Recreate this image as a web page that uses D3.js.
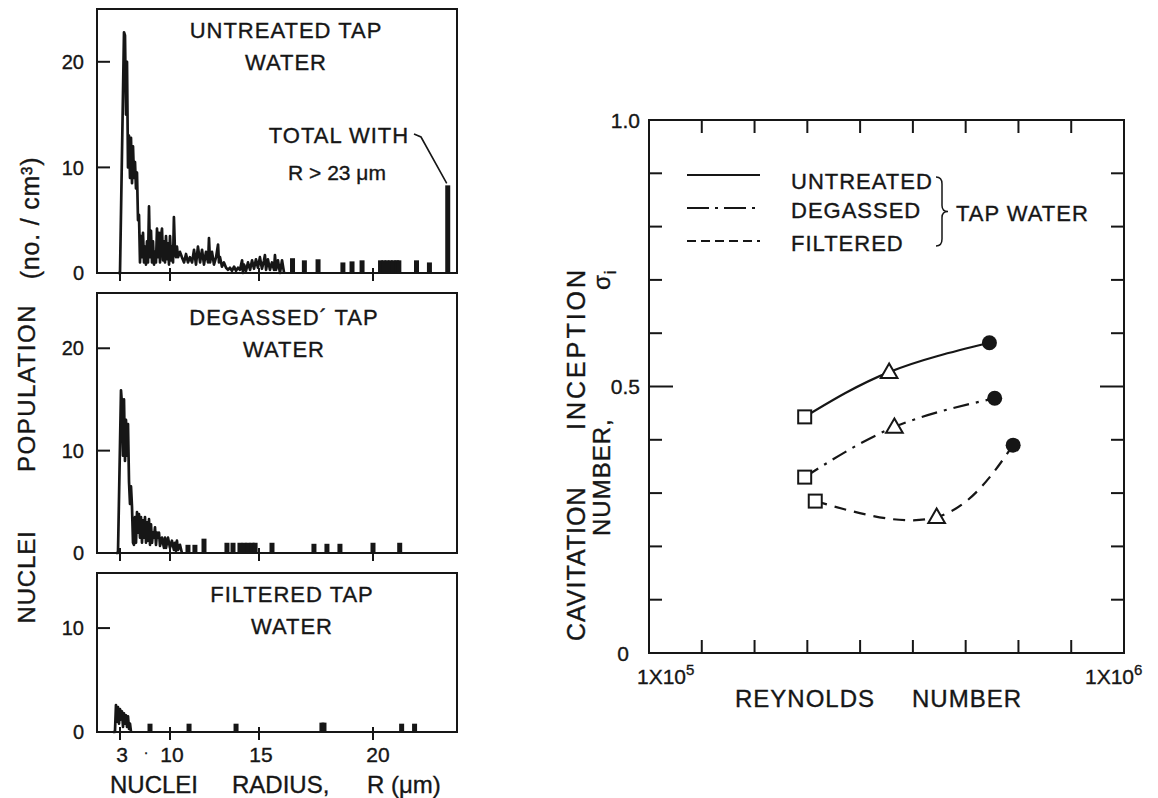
<!DOCTYPE html>
<html>
<head>
<meta charset="utf-8">
<script src="https://cdn.jsdelivr.net/npm/d3@7"></script>
<style>
  body { margin: 0; background: #fff; }
  text { font-family: "Liberation Sans", Arial, sans-serif; fill: #161616; stroke: #161616; stroke-width: 0.35; }
</style>
</head>
<body>
<script>
// ---- left: nuclei histograms, [radius (um), count per cm3] ----
const untreated = [[2.72,0],[3.00,0],[3.56,22.8],[3.70,22.5],[3.84,15],[3.98,20],[4.12,10],[4.26,13],[4.40,9],[4.54,12.8],
  [4.68,8.5],[4.82,12],[4.96,9],[5.10,10.5],[5.24,8],[5.38,9.5],[5.52,5],[5.66,5.5],[5.80,1],[5.94,3.5],
  [6.08,1.5],[6.22,3.8],[6.36,1],[6.50,2.5],[6.64,0.8],[6.78,3],[6.92,1],[7.06,6.3],[7.20,1.5],[7.34,4],
  [7.48,1],[7.62,3],[7.76,0.8],[7.90,2],[8.04,1],[8.18,4.2],[8.32,1.5],[8.46,3.8],[8.60,1],[8.74,3.5],
  [8.88,4.2],[9.02,1.2],[9.16,3],[9.30,1],[9.44,3.5],[9.58,1.3],[9.72,2.8],[9.86,0.8],[10.00,3.5],[10.06,1.2],
  [10.11,2.5],[10.17,1],[10.22,5.3],[10.28,2],[10.34,1.5],[10.39,2.5],[10.45,1.5],[10.56,2],[10.67,1.5],[10.79,1],
  [10.90,1.8],[11.01,1],[11.12,1.5],[11.24,1],[11.35,2.2],[11.46,0.8],[11.57,2.5],[11.69,1],[11.80,2.2],[11.91,0.8],
  [12.02,2],[12.14,1],[12.19,3.3],[12.25,1],[12.36,2],[12.47,0.8],[12.59,1.5],[12.70,2.7],[12.75,1],[12.81,1.5],
  [12.92,0.6],[13.03,1],[13.15,0.5],[13.26,0.3],[13.37,0.5],[13.48,0.2],[13.60,0.6],[13.71,0.2],[13.82,0.5],[13.93,0.3],
  [14.05,1.2],[14.10,0],[14.16,0.8],[14.27,0.2],[14.38,1],[14.50,0.3],[14.61,1.2],[14.72,0.4],[14.83,1.3],[14.94,0.5],
  [15.04,1.5],[15.13,0.4],[15.22,1.2],[15.26,1.7],[15.31,0.3],[15.39,1.3],[15.48,0.3],[15.57,1],[15.66,0.3],[15.70,1.7],
  [15.75,0.3],[15.83,1.2],[15.92,0],[16.01,1.2],[16.10,0]];
const untreatedBars = [[16.47,1.4],[16.99,1.2],[17.59,1.3],[18.68,1.0],[19.08,1.1],[19.52,1.2],[20.35,1.2],[20.5,1.2],
  [20.65,1.2],[20.8,1.2],[20.95,1.2],[21.1,1.2],[21.2,1.2],[22.02,1.2],[22.62,1.0],[23.47,8.3]];

const degassed = [[2.44,0],[2.72,0],[3.14,15.9],[3.28,14.5],[3.42,9.5],[3.56,15],[3.70,9],[3.84,13],[3.98,9.5],[4.12,12.6],
  [4.26,7],[4.40,4.8],[4.54,6.5],[4.68,4.5],[4.82,1],[4.96,0.8],[5.10,3.5],[5.24,1],[5.38,4],[5.52,2],
  [5.66,3.8],[5.80,1.5],[5.94,3.5],[6.08,1],[6.22,3.2],[6.36,1.5],[6.50,3.5],[6.64,1],[6.78,3],[6.92,1.2],
  [7.06,3.3],[7.20,0.8],[7.34,2.8],[7.48,1],[7.62,2],[7.76,1.5],[7.90,2.5],[8.04,0.8],[8.18,2],[8.32,1.5],
  [8.46,2],[8.60,0.7],[8.88,1.5],[9.16,0.5],[9.30,1.5],[9.44,0.5],[9.72,1.5],[10.00,0.5],[10.11,1.2],[10.22,0.3],
  [10.28,1],[10.34,0.2],[10.39,1.2],[10.45,0.3],[10.56,0.8],[10.67,0]];
const degassedBars = [[11.01,0.8],[11.40,0.8],[11.91,1.4],[13.20,1.0],[13.54,1.0],[13.93,1.0],[14.16,1.0],[14.38,1.0],
  [14.61,1.0],[14.78,1.0],[15.57,1.0],[17.41,0.9],[17.98,0.9],[18.55,0.9],[20.0,1.0],[21.24,1.0]];

const filtered = [[2.02,0],[2.30,0],[2.44,2.6],[2.58,1.0],[2.72,2.4],[2.86,0.8],[3.00,2.2],[3.14,1.2],[3.28,2.0],[3.42,0.5],
  [3.56,1.8],[3.70,0.8],[3.84,1.6],[3.98,0.5],[4.12,1.5],[4.26,0.3],[4.40,0.8],[4.54,0]];
const filteredBars = [[7.20,0.8],[11.07,0.8],[13.71,0.8],[17.76,0.9],[17.85,0.9],[21.33,0.8],[21.93,0.8]];

const radiusTicks = [3, 10, 15, 20];

// ---- right: inception number vs Reynolds number ----
const seriesNames = ["UNTREATED", "DEGASSED", "FILTERED"];
const untreatedRe = [3.95e5, 5.55e5, 7.45e5];
const untreatedSigma = [0.443, 0.527, 0.582];
const degassedRe = [3.95e5, 5.65e5, 7.55e5];
const degassedSigma = [0.330, 0.424, 0.478];
const filteredRe = [4.15e5, 6.45e5, 7.90e5];
const filteredSigma = [0.285, 0.255, 0.390];
const markerKinds = ["square", "triangle", "circle"];

const W = 1158, H = 798;
const svg = d3.select('body').append('svg')
  .attr('width', W).attr('height', H);
svg.append('rect').attr('width', W).attr('height', H).attr('fill', '#fff');

const ink = '#161616';

// ================= left panels =================
const left = 97, right = 457;
// hand-drawn radius axis is not uniform, so piecewise linear
const xR = d3.scaleLinear()
  .domain([-0.2, 3, 10, 15, 20, 23.9])
  .range([left, 120, 170, 259, 373, right]);

const panels = [
  {title: ["UNTREATED TAP", "WATER"], cx: 286, ty: 38, top: 9, bottom: 273, max: 25, yTicks: [0, 10, 20], line: untreated, bars: untreatedBars},
  {title: ["DEGASSED\u00B4 TAP", "WATER"], cx: 284, ty: 325, top: 293, bottom: 553, max: 25.4, yTicks: [0, 10, 20], line: degassed, bars: degassedBars},
  {title: ["FILTERED TAP", "WATER"], cx: 292, ty: 602, top: 573, bottom: 732, max: 15.3, yTicks: [0, 10], line: filtered, bars: filteredBars}
];

panels.forEach(p => {
  const y = d3.scaleLinear().domain([0, p.max]).range([p.bottom, p.top]);
  const g = svg.append('g');

  g.append('rect')
    .attr('x', left).attr('y', p.top)
    .attr('width', right - left).attr('height', p.bottom - p.top)
    .attr('fill', 'none').attr('stroke', ink).attr('stroke-width', 2);

  g.selectAll('line.yt').data(p.yTicks).join('line')
    .attr('x1', left).attr('x2', left + 13)
    .attr('y1', d => y(d)).attr('y2', d => y(d))
    .attr('stroke', ink).attr('stroke-width', 2);
  g.selectAll('text.yl').data(p.yTicks).join('text')
    .attr('x', 84).attr('y', d => y(d)).attr('dy', '0.36em')
    .attr('text-anchor', 'end').attr('font-size', 20)
    .text(d => d);

  g.selectAll('line.xt').data(radiusTicks).join('line')
    .attr('x1', d => xR(d)).attr('x2', d => xR(d))
    .attr('y1', y(0) - 5).attr('y2', y(0) + 8)
    .attr('stroke', ink).attr('stroke-width', 2);

  g.append('path')
    .datum(p.line)
    .attr('d', d3.line().x(d => xR(d[0])).y(d => y(d[1])))
    .attr('fill', 'none').attr('stroke', ink)
    .attr('stroke-width', 2.7).attr('stroke-linejoin', 'round');

  g.selectAll('rect.bar').data(p.bars).join('rect')
    .attr('x', d => xR(d[0]) - 2.5).attr('width', 5)
    .attr('y', d => y(d[1])).attr('height', d => y(0) - y(d[1]))
    .attr('fill', ink);

  g.selectAll('text.title').data(p.title).join('text')
    .attr('x', p.cx).attr('y', (d, i) => p.ty + i * 32)
    .attr('text-anchor', 'middle').attr('font-size', 22)
    .attr('letter-spacing', 1)
    .text(d => d);

  if (p.line === untreated) {
    const last = p.bars[p.bars.length - 1];
    g.append('text').attr('x', 339).attr('y', 143)
      .attr('text-anchor', 'middle').attr('font-size', 22).attr('letter-spacing', 1)
      .text('TOTAL WITH');
    g.append('text').attr('x', 337).attr('y', 180)
      .attr('text-anchor', 'middle').attr('font-size', 21)
      .text('R > 23 \u03BCm');
    g.append('path')
      .attr('d', d3.line()([[414, 134], [421, 137], [xR(last[0]) - 1, y(last[1]) - 2]]))
      .attr('fill', 'none').attr('stroke', ink).attr('stroke-width', 1.6);
  }
});

// radius tick labels and axis title
svg.selectAll('text.rl').data(radiusTicks).join('text')
  .attr('x', d => xR(d) + (d === 20 ? 5 : 2)).attr('y', 762)
  .attr('text-anchor', 'middle').attr('font-size', 21)
  .text(d => d);
svg.append('text').attr('x', 146).attr('y', 757).attr('font-size', 14)
  .attr('text-anchor', 'middle').text('\u00B7');
const xTitle = svg.append('text').attr('y', 793).attr('font-size', 24);
xTitle.append('tspan').attr('x', 110).text('NUCLEI');
xTitle.append('tspan').attr('x', 232).text('RADIUS,');
xTitle.append('tspan').attr('x', 367).text('R (\u03BCm)');

[["NUCLEI", 577, 35, 24], ["POPULATION", 388, 35, 24], ["(no. / cm\u00B3)", 218, 39, 25]].forEach(([t, cy, bx, fs]) => {
  svg.append('text')
    .attr('transform', `translate(${bx},${cy}) rotate(-90)`)
    .attr('text-anchor', 'middle').attr('font-size', fs)
    .attr('letter-spacing', t === 'POPULATION' ? 1.5 : 0.8)
    .text(t);
});

// ================= right chart =================
const x = d3.scaleLinear().domain([1e5, 1e6]).range([649, 1124]);
const y = d3.scaleLinear().domain([0, 1]).range([653, 120]);
const rg = svg.append('g');

rg.append('rect')
  .attr('x', x(1e5)).attr('y', y(1))
  .attr('width', x(1e6) - x(1e5)).attr('height', y(0) - y(1))
  .attr('fill', 'none').attr('stroke', ink).attr('stroke-width', 2);

const yT = y.ticks(10).filter(d => d > 0 && d < 1);
const tickLen = d => Math.abs(d - 0.5) < 1e-9 ? 24 : 13;
rg.selectAll('line.ly').data(yT).join('line')
  .attr('x1', x(1e5)).attr('x2', d => x(1e5) + tickLen(d))
  .attr('y1', d => y(d)).attr('y2', d => y(d))
  .attr('stroke', ink).attr('stroke-width', 2);
rg.selectAll('line.ry').data(yT).join('line')
  .attr('x1', x(1e6)).attr('x2', d => x(1e6) - tickLen(d))
  .attr('y1', d => y(d)).attr('y2', d => y(d))
  .attr('stroke', ink).attr('stroke-width', 2);

const xT = d3.range(2, 10).map(k => k * 1e5);
rg.selectAll('line.bx').data(xT).join('line')
  .attr('x1', d => x(d)).attr('x2', d => x(d))
  .attr('y1', y(0)).attr('y2', y(0) - 13)
  .attr('stroke', ink).attr('stroke-width', 2);
rg.selectAll('line.tx').data(xT).join('line')
  .attr('x1', d => x(d)).attr('x2', d => x(d))
  .attr('y1', y(1)).attr('y2', y(1) + 13)
  .attr('stroke', ink).attr('stroke-width', 2);

rg.selectAll('text.yl').data([0, 0.5, 1]).join('text')
  .attr('x', d => d === 0 ? 629 : 640).attr('y', d => y(d)).attr('dy', '0.36em')
  .attr('text-anchor', 'end').attr('font-size', 21)
  .text(d => d === 0 ? '0' : d.toFixed(1));

[[1e5, -12, '5'], [1e6, -39, '6']].forEach(([v, dx, e]) => {
  const t = rg.append('text').attr('x', x(v) + dx).attr('y', 684).attr('font-size', 21);
  t.append('tspan').text('1X10');
  t.append('tspan').attr('dy', -9).attr('font-size', 15).text(e);
});

const rTitle = rg.append('text').attr('y', 707).attr('font-size', 24).attr('letter-spacing', 1);
rTitle.append('tspan').attr('x', 735).text('REYNOLDS');
rTitle.append('tspan').attr('x', 912).text('NUMBER');

const yl1 = rg.append('text').attr('transform', 'translate(585,0) rotate(-90)')
  .attr('font-size', 25).attr('letter-spacing', 1);
yl1.append('tspan').attr('x', -641).text('CAVITATION');
yl1.append('tspan').attr('x', -430).attr('letter-spacing', 3).text('INCEPTION');
const yl2 = rg.append('text').attr('transform', 'translate(610,0) rotate(-90)')
  .attr('font-size', 24).attr('letter-spacing', 1);
yl2.append('tspan').attr('x', -536).text('NUMBER,');
yl2.append('tspan').attr('x', -290).text('\u03C3');
yl2.append('tspan').attr('dy', 6).attr('font-size', 16).text('i');

const series = [
  {re: untreatedRe, s: untreatedSigma, dash: null, legDash: null},
  {re: degassedRe, s: degassedSigma, dash: '16,7,3,7', legDash: '22,6,3,6'},
  {re: filteredRe, s: filteredSigma, dash: '12,8', legDash: '9,5'}
];

const curve = d3.line().x(d => x(d[0])).y(d => y(d[1])).curve(d3.curveNatural);
series.forEach(sr => {
  const pts = sr.re.map((r, i) => [r, sr.s[i]]);
  rg.append('path').attr('d', curve(pts))
    .attr('fill', 'none').attr('stroke', ink).attr('stroke-width', 2.2)
    .attr('stroke-dasharray', sr.dash);
  pts.forEach((p, i) => {
    const cx = x(p[0]), cy = y(p[1]);
    const kind = markerKinds[i];
    if (kind === 'circle') {
      rg.append('circle').attr('cx', cx).attr('cy', cy).attr('r', 7.5).attr('fill', ink);
    } else if (kind === 'square') {
      rg.append('rect').attr('x', cx - 6.5).attr('y', cy - 6.5).attr('width', 13).attr('height', 13)
        .attr('fill', '#fff').attr('stroke', ink).attr('stroke-width', 2);
    } else {
      rg.append('path').attr('d', d3.symbol(d3.symbolTriangle, 120)())
        .attr('transform', `translate(${cx},${cy + 1})`)
        .attr('fill', '#fff').attr('stroke', ink).attr('stroke-width', 2);
    }
  });
});

// legend
const legY = [175, 208, 241];
seriesNames.forEach((n, i) => {
  rg.append('line').attr('x1', 687).attr('x2', 760)
    .attr('y1', legY[i]).attr('y2', legY[i])
    .attr('stroke', ink).attr('stroke-width', 2.2)
    .attr('stroke-dasharray', series[i].legDash);
  rg.append('text').attr('x', 791).attr('y', legY[i] + (i === 0 ? 14 : 10))
    .attr('font-size', 22).attr('letter-spacing', 1).text(n);
});
const bx = 940, bTop = legY[0] + 2, bBot = legY[2] + 5, bMid = (bTop + bBot) / 2;
rg.append('path')
  .attr('d', `M${bx - 4},${bTop} Q${bx + 2},${bTop} ${bx + 2},${bTop + 7} L${bx + 2},${bMid - 6} Q${bx + 2},${bMid} ${bx + 8},${bMid}` +
             ` Q${bx + 2},${bMid} ${bx + 2},${bMid + 6} L${bx + 2},${bBot - 7} Q${bx + 2},${bBot} ${bx - 4},${bBot}`)
  .attr('fill', 'none').attr('stroke', ink).attr('stroke-width', 1.5);
rg.append('text').attr('x', 956).attr('y', bMid + 9)
  .attr('font-size', 22).attr('letter-spacing', 1).text('TAP WATER');
</script>
</body>
</html>
